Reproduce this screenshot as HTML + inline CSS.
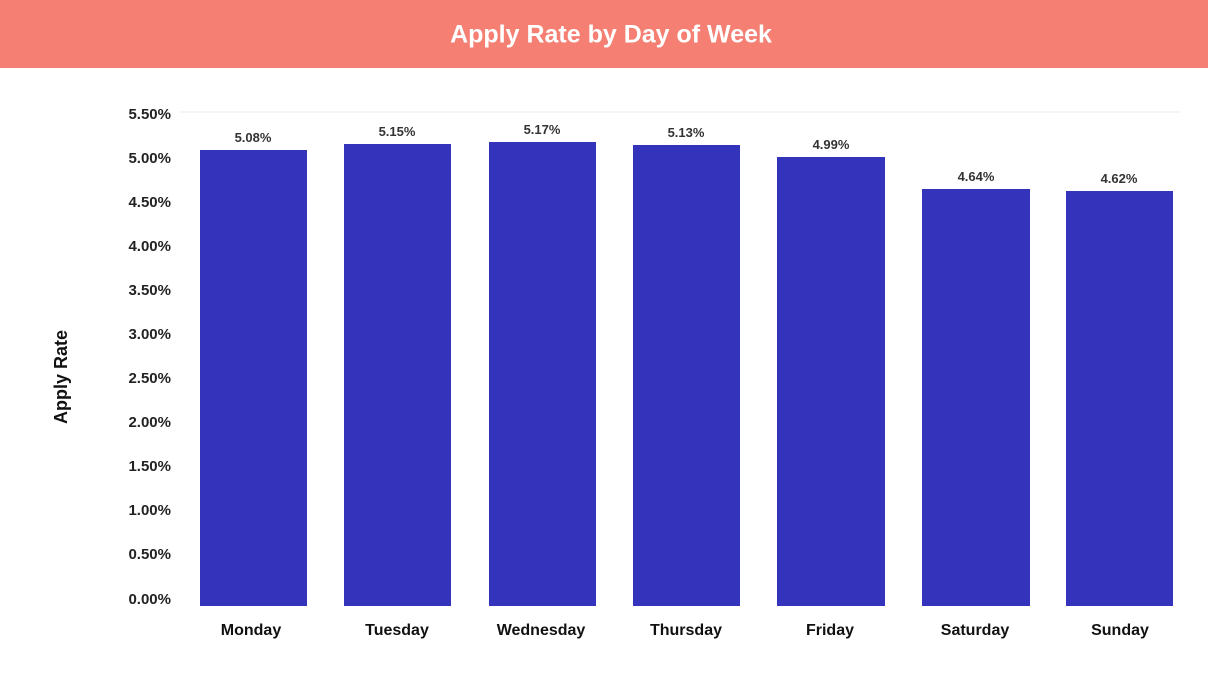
<!DOCTYPE html>
<html><head><meta charset="utf-8"><style>
body{margin:0;width:1208px;height:684px;background:#fff;overflow:hidden;font-family:"Liberation Sans",sans-serif}
</style></head><body>
<svg width="1208" height="684" xmlns="http://www.w3.org/2000/svg">
<rect x="0" y="0" width="1208" height="68" fill="#F47F72"/>
<text x="611" y="36" text-anchor="middle" dominant-baseline="middle" font-family="Liberation Sans, sans-serif" font-weight="bold" font-size="25" fill="#fff">Apply Rate by Day of Week</text>
<g font-family="Liberation Sans, sans-serif" font-weight="bold" font-size="15" fill="#222" text-anchor="end">
<line x1="180" y1="112" x2="1180" y2="112" stroke="#eee"/>
<text x="171" y="119">5.50%</text>
<text x="171" y="163">5.00%</text>
<text x="171" y="207">4.50%</text>
<text x="171" y="251">4.00%</text>
<text x="171" y="295">3.50%</text>
<text x="171" y="339">3.00%</text>
<text x="171" y="383">2.50%</text>
<text x="171" y="427">2.00%</text>
<text x="171" y="471">1.50%</text>
<text x="171" y="515">1.00%</text>
<text x="171" y="559">0.50%</text>
<text x="171" y="604">0.00%</text>
</g>
<text transform="translate(67,377) rotate(-90)" text-anchor="middle" font-family="Liberation Sans, sans-serif" font-weight="bold" font-size="18" fill="#111">Apply Rate</text>
<g fill="#3333BB">
<rect x="200" y="150" width="107" height="456"/>
<rect x="344" y="144" width="107" height="462"/>
<rect x="489" y="142" width="107" height="464"/>
<rect x="633" y="145" width="107" height="461"/>
<rect x="777" y="157" width="108" height="449"/>
<rect x="922" y="189" width="108" height="417"/>
<rect x="1066" y="191" width="107" height="415"/>
</g>
<g font-family="Liberation Sans, sans-serif" font-size="13" fill="#333" text-anchor="middle" font-weight="bold">
<text x="253" y="142">5.08%</text>
<text x="397" y="136">5.15%</text>
<text x="542" y="134">5.17%</text>
<text x="686" y="137">5.13%</text>
<text x="831" y="149">4.99%</text>
<text x="976" y="181">4.64%</text>
<text x="1119" y="183">4.62%</text>
</g>
<g font-family="Liberation Sans, sans-serif" font-size="16" font-weight="bold" fill="#111" text-anchor="middle">
<text x="251" y="635">Monday</text>
<text x="397" y="635">Tuesday</text>
<text x="541" y="635">Wednesday</text>
<text x="686" y="635">Thursday</text>
<text x="830" y="635">Friday</text>
<text x="975" y="635">Saturday</text>
<text x="1120" y="635">Sunday</text>
</g>
</svg>
</body></html>
